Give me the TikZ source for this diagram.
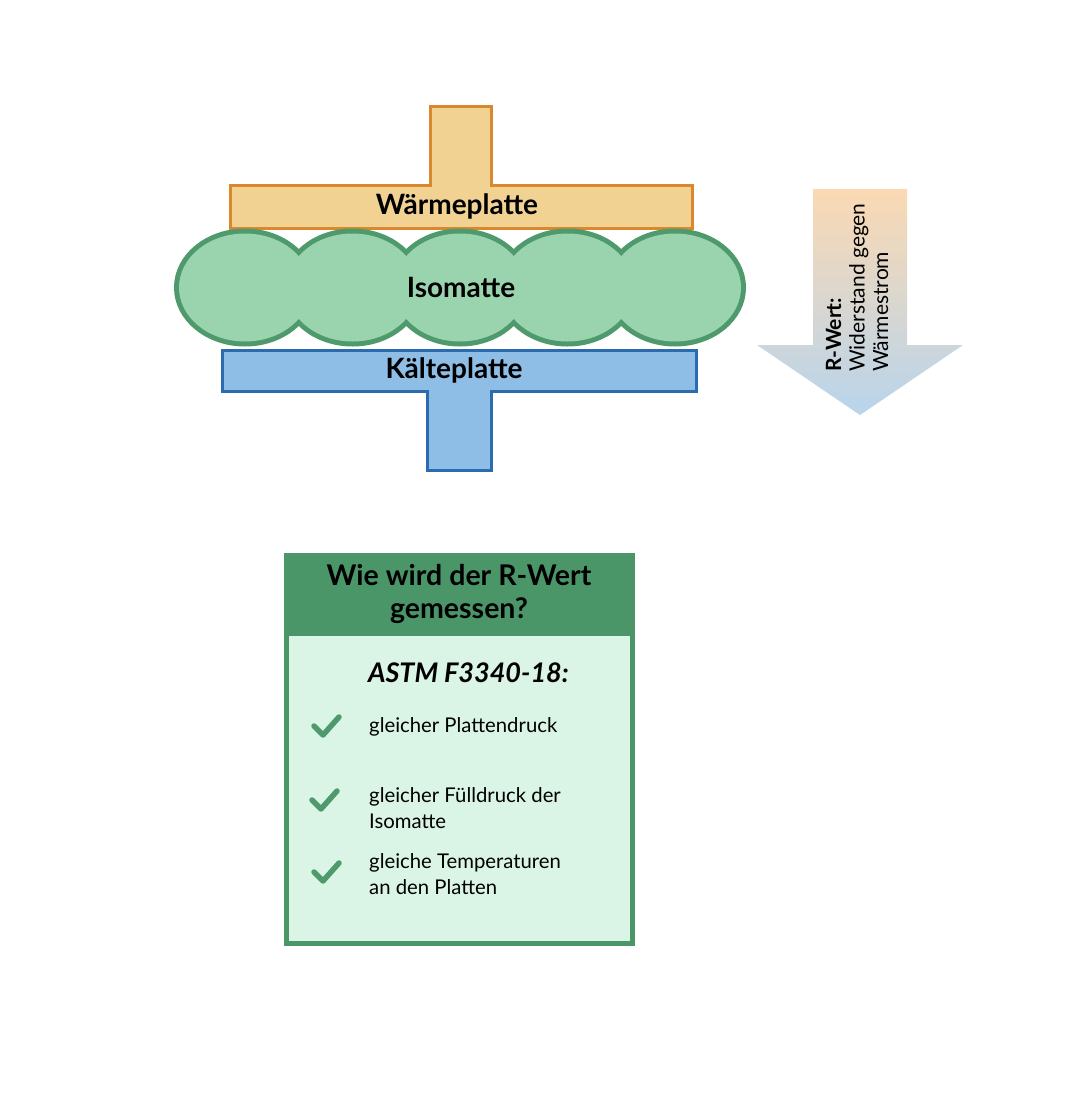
\documentclass[tikz,border=0pt]{standalone}
\usepackage{fontspec}
\setmainfont{Lato}
\definecolor{orB}{HTML}{D9882E}
\definecolor{orF}{HTML}{F2D293}
\definecolor{grB}{HTML}{4F9A6C}
\definecolor{grF}{HTML}{99D4AF}
\definecolor{blB}{HTML}{2B6BB0}
\definecolor{blF}{HTML}{8EBDE6}
\definecolor{arT}{HTML}{FBD9B3}
\definecolor{arB}{HTML}{B8D4EC}
\definecolor{hdr}{HTML}{4B9669}
\definecolor{bodyc}{HTML}{DAF5E5}
\begin{document}
\begin{tikzpicture}[x=1pt,y=-1pt,
  platelbl/.style={font=\bfseries\fontsize{28}{32}\selectfont, inner sep=0pt},
  itemtxt/.style={font=\fontsize{20.3}{25.5}\selectfont, anchor=west, align=left, inner sep=0pt},
  tick/.style={draw=grB, line width=5.5pt, line cap=round, line join=round}]
\useasboundingbox (0,0) rectangle (1070,1095);
% Waermeplatte
\filldraw[fill=orF, draw=orB, line width=3pt, line join=miter]
  (430,106) -- (491,106) -- (491,185) -- (692,185) -- (692,228) -- (230,228) -- (230,185) -- (430,185) -- cycle;
\node[platelbl] (warm) at (457,206) {Wärmeplatte};
% Kaelteplatte
\filldraw[fill=blF, draw=blB, line width=3pt, line join=miter]
  (222,350) -- (696,350) -- (696,391) -- (491,391) -- (491,470) -- (427,470) -- (427,391) -- (222,391) -- cycle;
\node[platelbl] (cold) at (454,370) {Kälteplatte};
% Isomatte
\foreach \c in {245,352.5,460,567.5,675}
  \draw[grB, line width=10pt] (\c,287.5) ellipse [x radius=66, y radius=54];
\foreach \c in {245,352.5,460,567.5,675}
  \fill[grF] (\c,287.5) ellipse [x radius=66, y radius=54];
\node[platelbl] (iso) at (461,287) {Isomatte};
% Arrow
\shade[top color=arT, bottom color=arB]
  (813,189) -- (907,189) -- (907,345) -- (963,345) -- (860,415) -- (757,345) -- (813,345) -- cycle;
\node[rotate=90, anchor=west, align=left, inner sep=0pt,
  font=\fontsize{21}{23.5}\selectfont] (rwert) at (857,372)
  {\textbf{R-Wert:}\\Widerstand gegen\\Wärmestrom};
% Box
\fill[hdr] (284,553) rectangle (635,946);
\fill[bodyc] (289,636) rectangle (630,941);
\node[font=\bfseries\fontsize{28.5}{33}\selectfont, align=center, inner sep=0pt] (title) at (459,594)
  {Wie wird der R-Wert\\gemessen?};
\node[font=\bfseries\itshape\fontsize{27}{30}\selectfont, anchor=west, inner sep=0pt] (astm) at (368,673) {ASTM F3340-18:};
\node[itemtxt] (i1) at (369,727) {gleicher Plattendruck};
\node[itemtxt] (i2) at (369,808) {gleicher Fülldruck der\\Isomatte};
\node[itemtxt] (i3) at (369,874) {gleiche Temperaturen\\an den Platten};
\draw[tick] (314,726) -- (323,735) -- (339,717);
\draw[tick] (312,800) -- (321,809) -- (337,791);
\draw[tick] (314,872) -- (323,881) -- (339,863);
\end{tikzpicture}
\end{document}
